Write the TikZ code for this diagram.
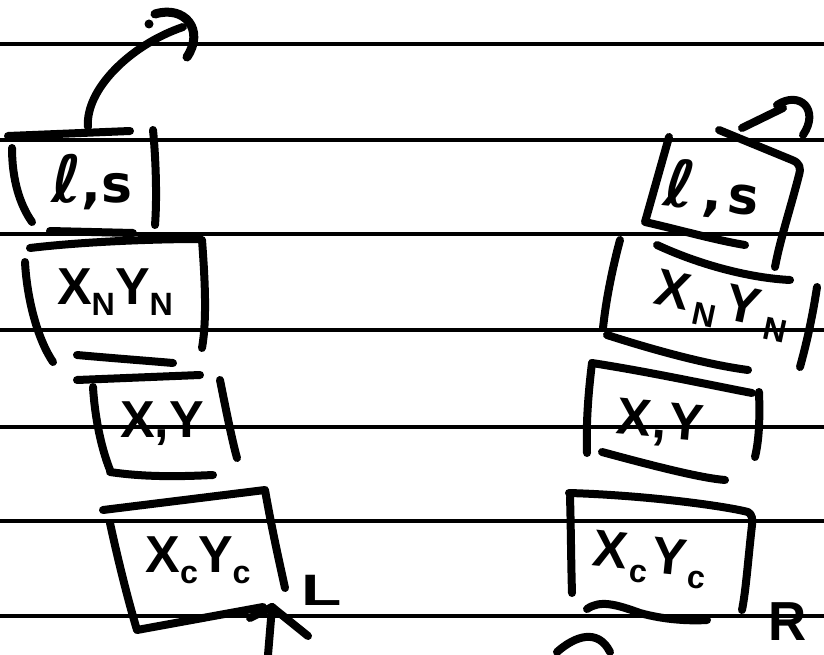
\documentclass[tikz,border=0pt]{standalone}
\usepackage{fontspec}
\setmainfont{Liberation Sans}
\newfontfamily\ellfont{DejaVu Sans}
\newcommand\lowsub[1]{\raisebox{-0.22em}{\scalebox{0.62}{#1}}}
\begin{document}
\begin{tikzpicture}[x=1pt,y=-1pt,
  rule/.style={line width=3.4pt},
  pen/.style={line width=8pt,line cap=round,line join=round},
  hand/.style={font=\fontsize{52}{52}\selectfont\bfseries,inner sep=0pt},
  letter/.style={font=\fontsize{44}{44}\selectfont\bfseries,inner sep=0pt}]
\useasboundingbox (0,0) rectangle (824,655);
\fill[white] (0,0) rectangle (824,655);

% ruled paper
\foreach \y in {44,140,234,330,427,521,616}
  \draw[rule] (0,\y) -- (824,\y);

% ---------- left stack ----------
\node[hand] (lls) at (92,182) {\ellfont\scalebox{1.25}{ℓ},s};
\node[hand] (lxn) at (115,292) {X\lowsub{N}Y\lowsub{N}};
\node[hand] (lxy) at (162,424) {X,Y};
\node[hand] (lxc) at (198,560) {X\lowsub{c}Y\lowsub{c}};
\node[letter] (lab L) at (322,590) {\scalebox{1.5}[1]{L}};

% box outlines
\draw[pen] (8,136) -- (130,131);
\draw[pen] (12,148) .. controls (12,180) and (20,205) .. (32,222);
\draw[pen] (153,130) .. controls (156,160) and (157,200) .. (155,225);

\draw[pen] (50,231) -- (133,233);
\draw[pen] (30,248) .. controls (80,242) and (150,239) .. (200,239);
\draw[pen] (25,262) .. controls (27,300) and (38,340) .. (53,362);
\draw[pen] (202,240) .. controls (205,280) and (207,320) .. (202,348);

\draw[pen] (77,355) .. controls (110,358) and (150,361) .. (173,363);
\draw[pen] (77,380) -- (200,375);
\draw[pen] (93,387) .. controls (95,420) and (102,450) .. (110,470);
\draw[pen] (220,380) .. controls (226,410) and (232,440) .. (237,458);
\draw[pen] (110,472) .. controls (150,478) and (190,476) .. (213,475);

\draw[pen] (103,510) -- (265,490) .. controls (272,530) and (280,565) .. (285,588);
\draw[pen] (110,523) .. controls (118,560) and (128,600) .. (137,630) -- (263,607);

% arrow leaving the top box
\coordinate (lTop) at (88,127);
\coordinate (lOut) at (183,27);
\draw[pen] (lTop) .. controls (85,90) and (130,45) .. (lOut);
\draw[pen,line width=9pt] (155,14) .. controls (185,5) and (205,30) .. (187,57);
\fill (149,24) circle (4.5);

% arrow pointing at the bottom box
\coordinate (lIn) at (272,607);
\coordinate (lTail) at (268,655);
\draw[pen] (lTail) -- (lIn);
\draw[pen] (lIn) -- (308,636);
\draw[pen] (lIn) -- (250,618);

% ---------- right stack ----------
\node[hand,rotate=-6] (rls) at (712,190) {\ellfont\scalebox{1.25}{ℓ}\kern8pt,\kern5pt s};
\node[hand,rotate=-12] (rxn) at (722,306)
  {X\kern7pt\lowsub{N}\kern7pt Y\kern7pt\lowsub{N}};
\node[hand,rotate=-5] (rxy) at (660,424) {X\kern2pt,\kern2pt Y};
\node[hand,rotate=-6] (rxc) at (650,560)
  {X\kern3pt\lowsub{c}\kern3pt Y\kern3pt\lowsub{c}};
\node[letter] (lab R) at (788,622) {\scalebox{1.2}[1.25]{R}};

\draw[pen] (669,137) -- (645,222) .. controls (680,230) and (715,240) .. (745,245);
\draw[pen] (719,130) -- (792,160) .. controls (800,163) and (801,168) .. (799,175)
   .. controls (790,210) and (780,240) .. (775,267);

\draw[pen] (657,245) .. controls (700,265) and (750,278) .. (790,280);
\draw[pen] (620,240) .. controls (612,270) and (606,300) .. (603,328);
\draw[pen] (817,287) .. controls (812,320) and (806,345) .. (800,367);
\draw[pen] (607,335) .. controls (660,352) and (710,365) .. (748,370);

\draw[pen] (592,363) .. controls (650,372) and (710,385) .. (752,393);
\draw[pen] (592,363) .. controls (588,395) and (586,425) .. (587,453);
\draw[pen] (759,392) .. controls (760,420) and (759,440) .. (755,457);
\draw[pen] (602,452) .. controls (650,465) and (700,478) .. (725,480);

\draw[pen] (569,493) .. controls (640,495) and (720,505) .. (748,512)
   .. controls (752,514) and (753,520) .. (752,525)
   .. controls (748,560) and (746,590) .. (742,610);
\draw[pen] (570,497) .. controls (571,530) and (571,560) .. (572,593);
\draw[pen] (587,609) .. controls (600,600) and (615,604) .. (640,613)
   .. controls (665,620) and (690,621) .. (707,620);

% arrow leaving the top box
\coordinate (rTop) at (742,128);
\coordinate (rOut) at (783,108);
\draw[pen] (rTop) -- (rOut);
\draw[pen] (777,105) .. controls (800,90) and (820,110) .. (803,135);

% arrow coming in below the bottom box
\coordinate (rTail) at (557,652);
\coordinate (rIn) at (610,652);
\draw[pen] (rTail) .. controls (575,636) and (598,628) .. (rIn);
\end{tikzpicture}
\end{document}
